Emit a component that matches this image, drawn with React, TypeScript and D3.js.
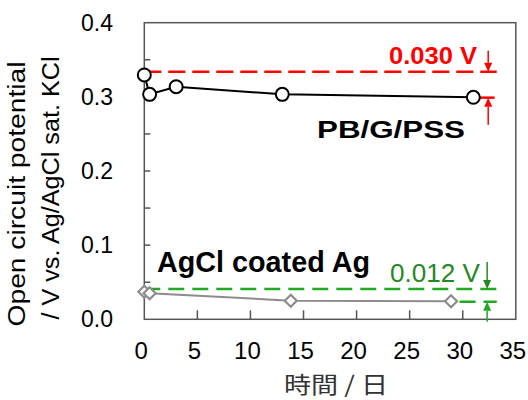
import React from "react";
import * as d3 from "d3";

const pbDays = [0, 0.5, 3, 13, 31];
const pbValues = [0.3295, 0.3034, 0.3137, 0.3034, 0.2994];
const agDays = [0, 0.5, 13.8, 28.9];
const agValues = [0.0372, 0.0351, 0.0251, 0.0243];
const xTicks = [0, 5, 10, 15, 20, 25, 30, 35];
const yTickLabels = [0, 0.1, 0.2, 0.3, 0.4];
const yMinorTicks = [0.05, 0.1, 0.15, 0.2, 0.25, 0.3, 0.35];
// annotation reference levels
const redLevels = [0.334, 0.2989];
const redStarts = [0, 31.4];
const greenLevels = [0.0409, 0.0237];
const greenStarts = [0, 29.7];
const annEnd = 33.2;
const redArrowX = 32.4;
const greenArrowX = 32.3;

const W = 528, H = 400;
const L = 144.3, R = 515.8, T = 22.7, B = 319.3;

export default function App() {
  const x = d3.scaleLinear().domain([0, 35]).range([L, R]);
  const y = d3.scaleLinear().domain([0, 0.4]).range([B, T]);
  const line = d3.line<[number, number]>().x((d) => x(d[0])).y((d) => y(d[1]));
  const pb = pbDays.map((d, i) => [d, pbValues[i]] as [number, number]);
  const ag = agDays.map((d, i) => [d, agValues[i]] as [number, number]);
  const font = "'Liberation Sans', Arial, sans-serif";
  const red = "#ff0000";
  const greenLine = "#1faa1f";
  const greenText = "#238a23";
  const gray = "#8c8c8c";

  const arrow = (ax: number, tipY: number, tailY: number, color: string) => {
    const dir = tailY < tipY ? 1 : -1; // 1 = pointing down
    const hx = 4, hy = 9;
    return (
      <g>
        <line x1={ax} x2={ax} y1={tailY} y2={tipY - dir * hy} stroke={color} strokeWidth={1.5} />
        <path d={`M${ax},${tipY} L${ax - hx},${tipY - dir * hy} L${ax + hx},${tipY - dir * hy} Z`} fill={color} />
      </g>
    );
  };

  return (
    <svg width={W} height={H} style={{ position: "absolute", left: 0, top: 0, background: "#fff" }}>
      {/* frame */}
      <rect x={L} y={T} width={R - L} height={B - T} fill="none" stroke="#555" strokeWidth={1.5} />
      {xTicks.slice(1, -1).map((t) => (
        <line key={t} x1={x(t)} x2={x(t)} y1={B} y2={B - 9} stroke="#555" strokeWidth={1.5} />
      ))}
      {yMinorTicks.map((t) => (
        <line key={t} x1={L} x2={L + 6} y1={y(t)} y2={y(t)} stroke="#555" strokeWidth={1.5} />
      ))}
      {xTicks.map((t) => (
        <text key={t} x={x(t) - 3} y={359} textAnchor="middle" fontFamily={font} fontSize={24} fill="#000">
          {t}
        </text>
      ))}
      {yTickLabels.map((t) => (
        <text key={t} x={113} y={y(t) + 8} textAnchor="end" fontFamily={font} fontSize={23} fill="#000">
          {t.toFixed(1)}
        </text>
      ))}
      {/* axis titles */}
      <text transform={`translate(25,194) rotate(-90)`} textAnchor="middle" fontFamily={font} fontSize={23}
        textLength={265} lengthAdjust="spacingAndGlyphs">Open circuit potential</text>
      <text transform={`translate(59,188) rotate(-90)`} textAnchor="middle" fontFamily={font} fontSize={23}
        textLength={263} lengthAdjust="spacingAndGlyphs">/ V vs. Ag/AgCl sat. KCl</text>
      <text x={336} y={393} textAnchor="middle" fontFamily="'Noto Sans CJK JP', sans-serif" fontSize={23}
        textLength={104} lengthAdjust="spacingAndGlyphs" fill="#333">時間 / 日</text>

      {/* red annotation */}
      {redLevels.map((v, i) => (
        <line key={i} x1={x(redStarts[i])} x2={x(annEnd)} y1={y(v)} y2={y(v)} stroke={red} strokeWidth={2.5}
          strokeDasharray="17 7" />
      ))}
      {arrow(x(redArrowX), y(redLevels[0]), y(redLevels[0]) - 21, red)}
      {arrow(x(redArrowX), y(redLevels[1]), y(redLevels[1]) + 27, red)}
      <text x={477} y={63.5} textAnchor="end" fontFamily={font} fontWeight="bold" fontSize={23} fill={red}
        textLength={88} lengthAdjust="spacingAndGlyphs">0.030 V</text>

      {/* green annotation */}
      {greenLevels.map((v, i) => (
        <line key={i} x1={x(greenStarts[i])} x2={x(annEnd)} y1={y(v)} y2={y(v)} stroke={greenLine} strokeWidth={2.5}
          strokeDasharray="16 8" />
      ))}
      {arrow(x(greenArrowX), y(greenLevels[0]), y(greenLevels[0]) - 27, greenText)}
      {arrow(x(greenArrowX), y(greenLevels[1]), y(greenLevels[1]) + 20, greenLine)}
      <text x={480} y={281.5} textAnchor="end" fontFamily={font} fontSize={26} fill={greenText}
        textLength={90} lengthAdjust="spacingAndGlyphs">0.012 V</text>

      {/* series */}
      <path d={line(ag) || ""} fill="none" stroke={gray} strokeWidth={2} />
      {ag.map((d, i) => (
        <path key={i} d={`M${x(d[0]) - 6},${y(d[1])} L${x(d[0])},${y(d[1]) - 6} L${x(d[0]) + 6},${y(d[1])} L${x(d[0])},${y(d[1]) + 6} Z`}
          fill="#fff" stroke={gray} strokeWidth={2.2} />
      ))}
      <path d={line(pb) || ""} fill="none" stroke="#000" strokeWidth={2} />
      {pb.map((d, i) => (
        <circle key={i} cx={x(d[0])} cy={y(d[1])} r={6.5} fill="#fff" stroke="#000" strokeWidth={2} />
      ))}

      {/* labels */}
      <text x={317} y={137.5} fontFamily={font} fontWeight="bold" fontSize={24} fill="#000"
        textLength={148} lengthAdjust="spacingAndGlyphs">PB/G/PSS</text>
      <text x={157} y={271.5} fontFamily={font} fontWeight="bold" fontSize={29} fill="#000"
        textLength={213} lengthAdjust="spacingAndGlyphs">AgCl coated Ag</text>
    </svg>
  );
}
